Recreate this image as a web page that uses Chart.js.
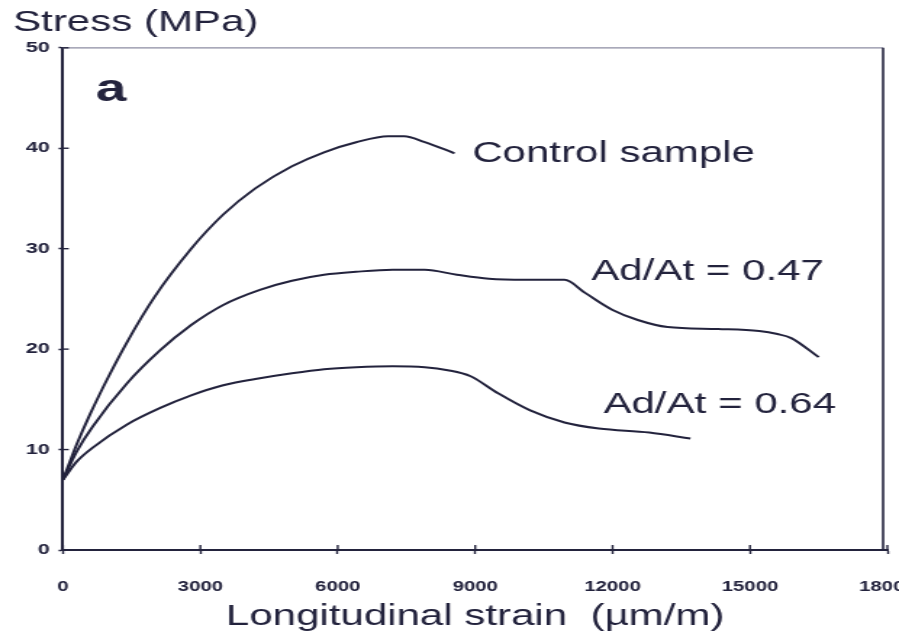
<!DOCTYPE html>
<html>
<head>
<meta charset="utf-8">
<script src="https://cdn.jsdelivr.net/npm/chart.js@4"></script>
<style>
  html, body { margin: 0; padding: 0; background: #fff; }
  #chart { width: 899px !important; height: 638px !important; display: block; }
</style>
</head>
<body>
<!-- the scan is stretched sideways, so draw narrow and let css widen it -->
<canvas id="chart" width="620" height="638" style="width:899px;height:638px"></canvas>
<script>
const strainControl = [0, 300, 600, 1000, 1400, 2000, 2800, 3500, 4200, 5000, 5700, 6400, 7100, 7450, 7900, 8550];
const stressControl = [7, 10.5, 13.6, 17.3, 20.7, 25.2, 30.0, 33.4, 36.0, 38.2, 39.6, 40.6, 41.2, 41.2, 40.6, 39.5];

const strain047 = [0, 300, 650, 1400, 2100, 2800, 3500, 4300, 5000, 5700, 6400, 7200, 7900, 8600, 9300, 10100, 10950, 11400, 12000, 12550, 13200, 14300, 15200, 15600, 15900, 16500];
const stress047 = [7, 9.8, 12.3, 16.6, 19.8, 22.4, 24.4, 25.9, 26.8, 27.4, 27.7, 27.9, 27.9, 27.4, 27.0, 26.9, 26.9, 25.6, 23.9, 22.9, 22.2, 22.0, 21.8, 21.5, 21.1, 19.2];

const strain064 = [0, 300, 650, 1400, 2100, 2800, 3500, 4300, 5000, 5700, 6400, 7200, 7900, 8400, 8900, 9500, 10200, 10950, 11700, 12800, 13700];
const stress064 = [7, 8.8, 10.2, 12.5, 14.1, 15.4, 16.4, 17.1, 17.6, 18.0, 18.2, 18.3, 18.2, 17.9, 17.3, 15.6, 13.9, 12.7, 12.1, 11.7, 11.1];

const xTickLabels = ["0", "3000", "6000", "9000", "12000", "15000", "18000"];
const yTickLabels = ["0", "10", "20", "30", "40", "50"];
const curveLabels = ["Control sample", "Ad/At = 0.47", "Ad/At = 0.64"];

const INK = "#23233d";
const FONT = "'Liberation Sans', Arial, sans-serif";

const toPoints = (xs, ys) => xs.map((x, i) => ({ x: x, y: ys[i] }));

const lineSet = (label, xs, ys) => ({
  label: label,
  data: toPoints(xs, ys),
  borderColor: INK,
  borderWidth: 2,
  pointRadius: 0,
  fill: false,
  cubicInterpolationMode: "monotone",
});

// top/right frame, inner halves of the ticks and the curve labels
const paperBits = {
  id: "paperBits",
  afterDraw(chart, args, opts) {
    const { ctx, chartArea: { left, right, top, bottom } } = chart;
    const xs = chart.scales.x;
    const ys = chart.scales.y;

    ctx.save();
    ctx.strokeStyle = "#8c8ca2";
    ctx.lineWidth = 1.2;
    ctx.beginPath();
    ctx.moveTo(left, top);
    ctx.lineTo(right - 3, top);
    ctx.stroke();

    ctx.strokeStyle = INK;
    ctx.lineWidth = 1.6;
    ctx.beginPath();
    ctx.moveTo(right - 3, top);
    ctx.lineTo(right - 3, bottom);
    ctx.stroke();

    ctx.lineWidth = 1.4;
    xs.ticks.forEach((t) => {
      const px = xs.getPixelForValue(t.value);
      ctx.beginPath();
      ctx.moveTo(px, bottom);
      ctx.lineTo(px, bottom - 5);
      ctx.stroke();
    });
    ys.ticks.forEach((t) => {
      const py = ys.getPixelForValue(t.value);
      ctx.beginPath();
      ctx.moveTo(left, py);
      ctx.lineTo(left + 4, py);
      ctx.stroke();
    });

    ctx.fillStyle = INK;
    ctx.textBaseline = "alphabetic";
    ctx.textAlign = "left";
    opts.labels.forEach((l) => {
      ctx.font = l.font;
      ctx.fillText(l.text, xs.getPixelForValue(l.x), ys.getPixelForValue(l.y));
    });
    ctx.restore();
  },
};

new Chart(document.getElementById("chart"), {
  type: "line",
  data: {
    datasets: [
      lineSet(curveLabels[0], strainControl, stressControl),
      lineSet(curveLabels[1], strain047, stress047),
      lineSet(curveLabels[2], strain064, stress064),
    ],
  },
  options: {
    responsive: false,
    animation: false,
    devicePixelRatio: 1,
    layout: {
      padding: { top: 0, left: 9, right: 8, bottom: 0 },
    },
    scales: {
      x: {
        type: "linear",
        min: 0,
        max: 18000,
        afterFit(scale) {
          scale.height = 88;
          scale.paddingLeft = 0;
          scale.paddingRight = 0;
        },
        grid: {
          drawOnChartArea: false,
          drawTicks: true,
          tickLength: 4,
          tickWidth: 1.4,
          color: INK,
        },
        border: { display: true, color: INK, width: 2 },
        ticks: {
          stepSize: 3000,
          padding: 25,
          maxRotation: 0,
          autoSkip: false,
          color: INK,
          font: { family: FONT, size: 14, weight: "bold" },
          callback: (value, index) => xTickLabels[index],
        },
        title: {
          display: true,
          text: "Longitudinal strain  (µm/m)",
          color: INK,
          font: { family: FONT, size: 29 },
          padding: { top: 0, bottom: 4 },
        },
      },
      y: {
        min: 0,
        max: 50,
        afterFit(scale) {
          scale.width = 34.4;
        },
        grid: {
          drawOnChartArea: false,
          drawTicks: true,
          tickLength: 3,
          tickWidth: 1.4,
          color: INK,
        },
        border: { display: true, color: INK, width: 2 },
        ticks: {
          stepSize: 10,
          padding: 6,
          color: INK,
          font: { family: FONT, size: 15, weight: "bold" },
          callback: (value, index) => yTickLabels[index],
        },
      },
    },
    plugins: {
      legend: { display: false },
      tooltip: { enabled: false },
      title: {
        display: true,
        text: "Stress (MPa)",
        align: "start",
        color: INK,
        font: { family: FONT, size: 29, weight: "normal" },
        padding: { top: 6, bottom: 7 },
      },
      paperBits: {
        labels: [
          { text: "a", x: 716, y: 44.7, font: "bold 38px " + FONT },
          { text: curveLabels[0], x: 8935, y: 38.6, font: "29px " + FONT },
          { text: curveLabels[1], x: 11535, y: 26.9, font: "29px " + FONT },
          { text: curveLabels[2], x: 11800, y: 13.6, font: "29px " + FONT },
        ],
      },
    },
  },
  plugins: [paperBits],
});
</script>
</body>
</html>
